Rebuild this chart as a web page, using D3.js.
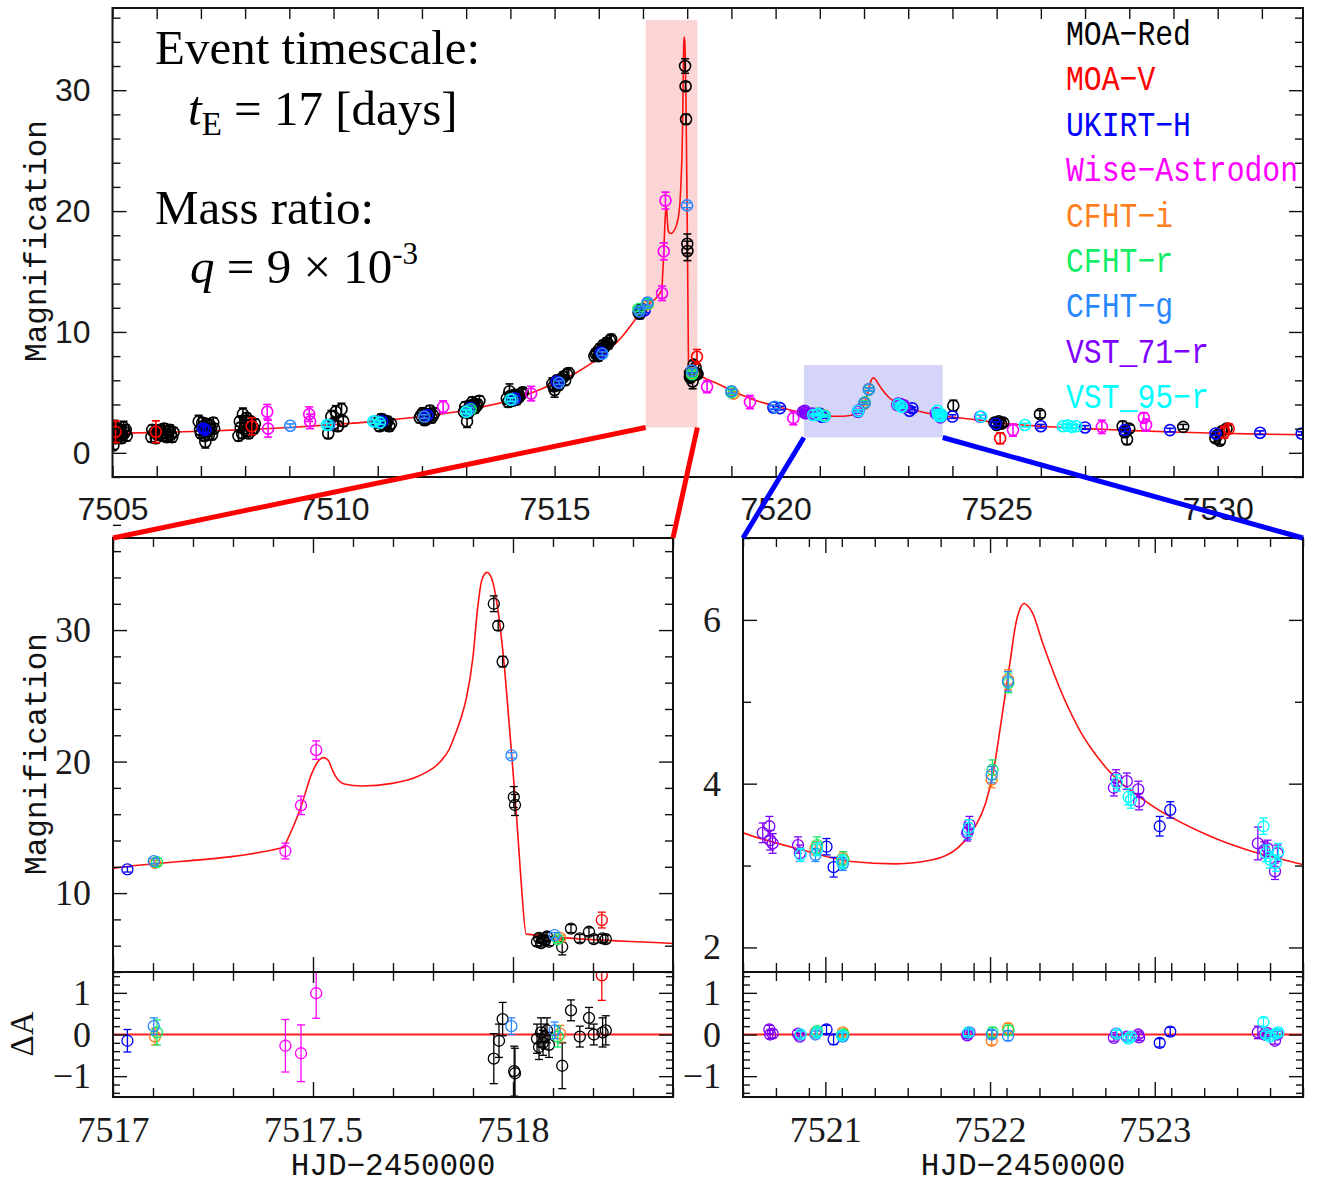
<!DOCTYPE html>
<html>
<head>
<meta charset="utf-8">
<script src="https://cdn.jsdelivr.net/npm/d3@7"></script>
<style>
  body { margin: 0; background: #fff; }
  svg { display: block; }
</style>
</head>
<body>
<script>
// ---------- data ----------
const seriesNames = ["MOA−Red", "MOA−V", "UKIRT−H", "Wise−Astrodon", "CFHT−i", "CFHT−r", "CFHT−g", "VST_71−r", "VST_95−r"];
const seriesColors = ["#000000", "#ff0000", "#0000ff", "#ff00ff", "#ff7f1e", "#11ee66", "#2a88ff", "#7f00ff", "#00ffff"];

// [HJD-2450000, magnification, error]
const moaRed = [
  [7505.02,0.6,0.3],[7505.03,1.4,0.4],[7505.04,2.2,0.5],[7505.06,1.9,0.5],[7505.08,1.2,0.4],[7505.10,1.6,0.4],[7505.12,2.0,0.4],[7505.14,1.3,0.4],
  [7505.16,1.7,0.4],[7505.18,1.8,0.5],[7505.20,1.2,0.4],[7505.22,1.5,0.4],[7505.25,2.1,0.5],[7505.28,1.7,0.4],[7505.30,1.9,0.4],[7505.32,1.4,0.4],
  [7505.88,1.3,0.4],[7505.90,1.9,0.4],[7505.95,1.7,0.4],[7505.98,1.2,0.4],[7506.02,1.5,0.4],[7506.05,1.8,0.4],[7506.08,1.9,0.4],[7506.11,1.6,0.4],
  [7506.14,1.4,0.4],[7506.17,2.0,0.4],[7506.20,1.6,0.4],[7506.23,1.3,0.4],[7506.26,1.8,0.4],[7506.30,1.9,0.4],[7506.32,1.5,0.4],[7506.35,1.3,0.4],[7506.38,1.7,0.4],
  [7506.95,2.6,0.5],[7506.98,1.9,0.4],[7507.00,1.6,0.4],[7507.03,2.5,0.4],[7507.05,2.2,0.4],[7507.08,1.4,0.4],[7507.10,0.9,0.5],[7507.13,2.4,0.4],
  [7507.15,1.8,0.4],[7507.18,1.5,0.4],[7507.20,2.3,0.4],[7507.23,2.0,0.4],[7507.25,1.5,0.4],[7507.28,2.5,0.4],[7507.30,2.0,0.4],
  [7507.85,1.4,0.4],[7507.88,2.6,0.4],[7507.90,2.1,0.4],[7507.93,1.6,0.4],[7507.95,3.2,0.5],[7507.98,2.0,0.4],[7508.00,2.6,0.5],[7508.03,2.9,0.4],
  [7508.05,1.8,0.4],[7508.08,1.6,0.4],[7508.10,2.3,0.4],[7508.12,2.6,0.4],[7508.15,1.9,0.4],[7508.20,2.0,0.4],[7508.22,2.4,0.4],
  [7509.88,1.6,0.4],[7509.95,3.0,0.5],[7510.00,2.4,0.4],[7510.05,3.4,0.5],[7510.10,2.2,0.4],[7510.18,3.6,0.5],[7510.22,2.6,0.4],
  [7511.00,2.5,0.4],[7511.04,2.2,0.4],[7511.08,2.8,0.4],[7511.12,2.7,0.4],[7511.15,2.3,0.4],[7511.18,2.5,0.4],[7511.22,2.6,0.4],[7511.26,2.2,0.4],[7511.30,2.4,0.4],
  [7511.95,2.9,0.4],[7511.98,3.1,0.4],[7512.02,3.3,0.4],[7512.06,2.7,0.4],[7512.10,2.8,0.4],[7512.14,3.2,0.4],[7512.18,3.5,0.4],[7512.22,2.9,0.4],[7512.25,3.1,0.4],[7512.28,3.3,0.4],
  [7512.95,3.4,0.4],[7512.98,3.8,0.4],[7513.02,2.6,0.5],[7513.05,3.3,0.4],[7513.08,3.9,0.4],[7513.11,3.6,0.4],[7513.14,4.2,0.4],[7513.17,4.0,0.4],
  [7513.20,3.7,0.4],[7513.23,3.9,0.4],[7513.26,4.0,0.4],[7513.30,4.3,0.4],
  [7513.92,4.5,0.5],[7513.95,4.2,0.4],[7513.98,5.1,0.6],[7514.01,4.7,0.4],[7514.04,4.3,0.4],[7514.07,4.5,0.4],[7514.10,4.8,0.4],[7514.14,4.4,0.4],
  [7514.18,4.6,0.4],[7514.21,4.7,0.4],[7514.25,4.9,0.4],[7514.28,5.0,0.4],
  [7514.95,5.7,0.5],[7514.98,5.5,0.4],[7515.00,5.2,0.6],[7515.03,5.9,0.4],[7515.06,6.0,0.4],[7515.09,5.6,0.4],[7515.12,5.8,0.4],[7515.16,6.1,0.4],
  [7515.20,6.3,0.4],[7515.24,6.0,0.4],[7515.28,6.5,0.4],[7515.32,6.6,0.4],
  [7515.90,8.0,0.4],[7515.93,8.2,0.4],[7515.96,8.3,0.4],[7515.99,8.0,0.4],[7516.02,8.6,0.4],[7516.06,8.5,0.4],[7516.10,8.9,0.4],[7516.14,8.8,0.4],
  [7516.18,9.1,0.4],[7516.21,9.0,0.4],[7516.25,9.3,0.4],[7516.28,9.4,0.4],
  [7516.90,11.6,0.4],[7516.93,11.5,0.4],[7516.96,11.9,0.4],
  [7517.952,32.0,0.6],[7517.963,30.33,0.35],[7517.974,27.6,0.4],[7518.002,17.3,0.8],[7518.005,16.7,0.8],
  [7518.060,6.3,0.3],[7518.065,6.6,0.3],[7518.070,6.2,0.3],[7518.075,6.5,0.3],[7518.080,6.4,0.3],[7518.085,6.7,0.3],[7518.090,6.3,0.3],
  [7518.123,5.9,0.6],[7518.145,7.3,0.3],[7518.167,6.55,0.3],[7518.190,7.06,0.3],[7518.202,6.5,0.3],[7518.224,6.56,0.3],[7518.232,6.5,0.3],
  [7524.02,3.9,0.45],[7524.95,2.5,0.3],[7525.00,2.3,0.3],[7525.05,2.6,0.3],[7525.10,2.4,0.3],[7525.15,2.5,0.3],[7525.98,3.2,0.3],
  [7527.85,2.2,0.4],[7527.90,1.7,0.4],[7527.95,1.1,0.4],[7528.00,2.0,0.3],[7529.22,2.15,0.2],
  [7529.95,1.2,0.3],[7530.00,1.5,0.3],[7530.05,1.0,0.3],[7530.10,1.8,0.3],[7530.20,2.0,0.3]
];
const moaV = [
  [7505.07,1.74,0.9],[7505.98,1.74,0.9],[7508.15,2.2,0.7],[7518.222,7.95,0.6],[7525.08,1.2,0.45],[7530.15,1.7,0.5],[7530.25,2.0,0.4]
];
const ukirtH = [
  [7507.05,2.0,0.3],[7507.10,1.9,0.3],[7511.10,2.6,0.2],[7512.12,3.1,0.2],[7513.10,3.7,0.2],[7514.10,4.5,0.2],[7515.05,5.9,0.2],[7516.05,8.3,0.2],
  [7517.036,11.8,0.2],[7519.95,3.75,0.15],[7520.10,3.7,0.15],[7521.007,3.23,0.1],[7521.05,2.98,0.12],[7523.03,3.48,0.12],[7523.094,3.68,0.1],
  [7524.00,3.0,0.15],[7524.98,2.4,0.15],[7526.00,2.2,0.15],[7527.00,2.1,0.15],[7527.90,1.9,0.15],[7528.92,1.88,0.15],[7529.95,1.6,0.15],
  [7530.96,1.66,0.15],[7531.90,1.6,0.15]
];
const wise = [
  [7508.50,3.4,0.6],[7508.52,2.0,0.7],[7509.45,3.2,0.6],[7509.47,2.6,0.6],[7512.48,3.8,0.5],[7514.47,4.9,0.6],
  [7517.431,13.2,0.6],[7517.47,16.67,0.7],[7517.508,20.87,0.7],[7518.45,5.47,0.5],[7519.42,4.2,0.55],[7520.40,2.87,0.55],
  [7525.37,1.88,0.5],[7527.38,2.15,0.55],[7528.33,2.9,0.4],[7528.38,2.3,0.5]
];
const cfhtI = [
  [7517.105,12.3,0.2],[7518.118,6.6,0.2],[7519.05,4.9,0.15],[7520.94,3.21,0.08],[7521.106,3.09,0.08],[7522.01,4.05,0.1],[7522.109,5.27,0.12]
];
const cfhtR = [
  [7513.10,3.6,0.15],[7516.90,11.9,0.2],[7517.11,12.35,0.3],[7518.112,6.5,0.25],[7519.00,5.0,0.15],[7520.95,3.25,0.1],[7521.11,3.07,0.1],
  [7522.015,4.17,0.12],[7522.112,5.23,0.12]
];
const cfhtG = [
  [7509.02,2.24,0.15],[7509.90,2.3,0.15],[7510.95,2.6,0.15],[7512.05,3.0,0.15],[7513.05,3.5,0.15],[7514.05,4.4,0.15],[7515.10,5.8,0.15],
  [7516.08,8.2,0.15],[7516.92,11.7,0.2],[7517.102,12.43,0.2],[7517.996,20.47,0.2],[7518.104,6.8,0.2],[7519.00,5.1,0.15],[7519.98,3.8,0.15],
  [7520.94,3.13,0.08],[7521.106,3.02,0.08],[7521.865,3.42,0.1],[7522.01,4.11,0.1],[7522.109,5.25,0.12]
];
const vst71 = [
  [7520.62,3.4,0.12],[7520.66,3.48,0.12],[7520.665,3.31,0.12],[7520.68,3.27,0.12],[7520.834,3.25,0.1],[7520.845,3.15,0.1],
  [7521.861,3.40,0.1],[7521.875,3.5,0.1],[7522.752,3.95,0.1],[7522.765,4.07,0.1],[7522.83,4.03,0.1],[7522.90,3.93,0.1],[7522.905,3.78,0.1],
  [7523.626,3.27,0.2],[7523.665,3.19,0.1],[7523.685,3.21,0.1],[7523.73,2.93,0.1],[7523.745,3.15,0.1],[7524.63,2.98,0.15]
];
const vst95 = [
  [7509.85,2.3,0.15],[7510.90,2.6,0.15],[7511.05,2.5,0.15],[7513.00,3.4,0.15],[7514.00,4.4,0.15],[7520.85,3.13,0.08],[7520.95,3.2,0.08],
  [7521.10,3.05,0.08],[7521.87,3.46,0.1],[7522.77,4.01,0.1],[7522.84,3.84,0.1],[7522.855,3.8,0.1],[7523.66,3.48,0.1],[7523.675,3.15,0.1],
  [7523.70,3.07,0.1],[7523.735,3.03,0.1],[7523.75,3.17,0.1],[7524.65,3.0,0.15],[7525.64,2.3,0.15],[7526.50,2.2,0.15],[7526.60,2.25,0.15],
  [7526.70,2.15,0.15],[7526.80,2.2,0.15]
];

// residuals [HJD-2450000, ΔA, error]
const moaRedRes = [
  [7517.952,-0.58,0.6],[7517.965,-0.15,0.4],[7517.974,0.37,0.4],[7518.003,-0.88,0.6],[7518.005,-0.93,0.6],
  [7518.060,-0.1,0.35],[7518.065,-0.3,0.3],[7518.070,0.05,0.35],[7518.075,-0.2,0.3],[7518.080,-0.05,0.3],[7518.085,0.1,0.3],[7518.090,-0.25,0.3],
  [7518.123,-0.75,0.55],[7518.145,0.58,0.25],[7518.167,-0.05,0.25],[7518.190,0.4,0.25],[7518.202,0.0,0.25],[7518.224,0.05,0.35],[7518.232,0.1,0.35]
];
const moaVRes = [[7518.222,1.42,0.6]];
const ukirtHRes = [[7517.036,-0.15,0.27],[7521.007,0.12,0.1],[7521.05,-0.12,0.12],[7523.03,-0.2,0.1],[7523.094,0.07,0.1]];
const wiseRes = [[7517.431,-0.27,0.63],[7517.47,-0.45,0.68],[7517.508,0.99,0.6]];
const cfhtIRes = [[7517.105,-0.05,0.2],[7518.118,0.02,0.2],[7520.94,0.05,0.08],[7521.106,0.05,0.08],[7522.01,-0.15,0.1],[7522.109,0.15,0.12]];
const cfhtRRes = [[7517.11,0.05,0.3],[7518.112,-0.05,0.25],[7520.95,0.08,0.1],[7521.11,0.0,0.1],[7522.015,0.05,0.12],[7522.112,0.1,0.12]];
const cfhtGRes = [[7517.102,0.2,0.2],[7517.996,0.2,0.2],[7518.104,0.1,0.2],[7520.94,0.0,0.08],[7521.106,-0.05,0.08],[7521.865,0.02,0.1],[7522.01,0.0,0.1],[7522.109,-0.03,0.12]];
const vst71Res = [
  [7520.66,0.12,0.1],[7520.665,0.0,0.1],[7520.68,0.02,0.1],[7520.834,0.02,0.08],[7520.845,-0.05,0.08],[7521.861,-0.02,0.08],[7521.875,0.05,0.08],
  [7522.752,-0.08,0.08],[7522.765,0.02,0.08],[7522.83,-0.05,0.08],[7522.90,0.0,0.08],[7522.905,-0.07,0.08],
  [7523.626,0.05,0.15],[7523.665,0.0,0.08],[7523.685,0.03,0.08],[7523.73,-0.15,0.08],[7523.745,0.0,0.08]
];
const vst95Res = [
  [7520.85,0.0,0.08],[7520.95,0.05,0.08],[7521.10,-0.02,0.08],[7521.87,0.05,0.08],[7522.77,0.02,0.08],[7522.84,-0.1,0.08],[7522.855,-0.05,0.08],
  [7523.66,0.3,0.1],[7523.675,0.0,0.08],[7523.70,-0.05,0.08],[7523.735,0.02,0.08],[7523.75,0.05,0.08]
];

// best-fit model curve [HJD-2450000, magnification]
const model = [
  [7505.0,1.62],[7506,1.68],[7507,1.78],[7508,1.92],[7509,2.1],[7510,2.33],[7511,2.62],[7512,3.0],[7513,3.55],[7514,4.35],
  [7515,5.75],[7515.5,6.65],[7516,7.85],[7516.5,9.5],[7516.8,10.9],[7517.0,11.88],[7517.426,13.47],[7517.435,14.0],[7517.47,16.56],
  [7517.497,19.1],[7517.515,20.1],[7517.526,20.3],[7517.538,20.1],[7517.548,19.4],[7517.557,18.85],[7517.578,18.3],[7517.622,18.14],
  [7517.698,18.34],[7517.764,18.9],[7517.818,19.98],[7517.84,20.9],[7517.856,22.1],[7517.872,23.5],[7517.884,24.9],[7517.90,27.97],
  [7517.911,31.5],[7517.922,33.8],[7517.935,34.39],[7517.947,33.9],[7517.96,32.0],[7517.976,28.0],[7517.993,21.9],[7518.009,15.8],
  [7518.02,11.0],[7518.033,6.88],[7518.4,6.17],[7518.7,5.7],[7519.0,5.15],[7519.5,4.4],[7520.0,3.85],[7520.5,3.40],[7520.859,3.19],
  [7521.156,3.05],[7521.428,3.02],[7521.651,3.07],[7521.80,3.21],[7521.899,3.44],[7521.973,3.76],[7522.022,4.17],[7522.072,4.82],
  [7522.121,5.48],[7522.158,5.97],[7522.185,6.15],[7522.208,6.20],[7522.23,6.17],[7522.257,6.09],[7522.319,5.72],[7522.418,5.19],
  [7522.542,4.66],[7522.715,4.17],[7522.963,3.76],[7523.334,3.36],[7523.9,3.01],[7524.5,2.75],[7525,2.5],[7526,2.2],[7527,2.0],
  [7528,1.85],[7529,1.72],[7530,1.62],[7531,1.55],[7531.93,1.5]
];

// tick labels
const topXLabels = [7505, 7510, 7515, 7520, 7525, 7530];
const topYLabels = [0, 10, 20, 30];
const leftXLabels = [7517, 7517.5, 7518];
const leftYLabels = [10, 20, 30];
const rightXLabels = [7521, 7522, 7523];
const rightYLabels = [2, 4, 6];
const resYLabels = [-1, 0, 1];

// zoom windows marked in the top panel [t0, t1, A0, A1]
const zoomCaustic = [7517.06, 7518.23, 2.1, 35.8];
const zoomBump = [7520.64, 7523.78, 1.27, 7.26];

const mainData = [moaRed, moaV, ukirtH, wise, cfhtI, cfhtR, cfhtG, vst71, vst95];
const resData = [moaRedRes, moaVRes, ukirtHRes, wiseRes, cfhtIRes, cfhtRRes, cfhtGRes, vst71Res, vst95Res];

// ---------- drawing ----------
const W = 1319, H = 1183;
const svg = d3.select("body").append("svg").attr("width", W).attr("height", H);
const defs = svg.append("defs");
let clipCount = 0;

function clipGroup(x0, y0, x1, y1) {
  const id = "clip" + (clipCount++);
  defs.append("clipPath").attr("id", id).append("rect")
    .attr("x", x0).attr("y", y0).attr("width", x1 - x0).attr("height", y1 - y0);
  return svg.append("g").attr("clip-path", `url(#${id})`);
}

function addAxis(orient, scale, pos, values, size, opt = {}) {
  const make = { bottom: d3.axisBottom, top: d3.axisTop, left: d3.axisLeft, right: d3.axisRight }[orient];
  const ax = make(scale).tickValues(values).tickSize(-size).tickSizeOuter(0)
    .tickPadding(opt.pad || 0)
    .tickFormat(opt.fmt || (() => ""));
  const horiz = orient === "bottom" || orient === "top";
  const g = svg.append("g")
    .attr("transform", horiz ? `translate(0,${pos})` : `translate(${pos},0)`)
    .call(ax);
  g.select(".domain").remove();
  g.selectAll("line").attr("stroke", "#111").attr("stroke-width", 1.4);
  g.selectAll("text")
    .attr("font-family", opt.font || "Liberation Sans")
    .attr("font-size", opt.size || 32)
    .attr("fill", "#1a1a1a");
  return g;
}

function drawModel(g, x, y) {
  g.append("path")
    .datum(model)
    .attr("fill", "none")
    .attr("stroke", "#ff1010")
    .attr("stroke-width", 1.6)
    .attr("d", d3.line().x(d => x(d[0])).y(d => y(d[1])).curve(d3.curveMonotoneX));
}

function drawPoints(g, x, y, sets, r, sw) {
  sets.forEach((pts, i) => {
    const s = g.append("g")
      .attr("stroke", seriesColors[i])
      .attr("fill", "none")
      .attr("stroke-width", sw);
    const pt = s.selectAll("g").data(pts).join("g");
    pt.append("line")
      .attr("x1", d => x(d[0])).attr("x2", d => x(d[0]))
      .attr("y1", d => y(d[1] - d[2])).attr("y2", d => y(d[1] + d[2]));
    pt.append("line")
      .attr("x1", d => x(d[0]) - 4).attr("x2", d => x(d[0]) + 4)
      .attr("y1", d => y(d[1] - d[2])).attr("y2", d => y(d[1] - d[2]));
    pt.append("line")
      .attr("x1", d => x(d[0]) - 4).attr("x2", d => x(d[0]) + 4)
      .attr("y1", d => y(d[1] + d[2])).attr("y2", d => y(d[1] + d[2]));
    pt.append("circle")
      .attr("cx", d => x(d[0])).attr("cy", d => y(d[1]))
      .attr("r", r);
  });
}

function frame(x0, y0, x1, y1) {
  svg.append("rect")
    .attr("x", x0).attr("y", y0).attr("width", x1 - x0).attr("height", y1 - y0)
    .attr("fill", "none").attr("stroke", "#111").attr("stroke-width", 2);
}

const stepRange = (a, b, s) => d3.range(0, Math.round((b - a) / s) + 1).map(i => +(a + i * s).toFixed(4));
const notIn = (vals, majors) => vals.filter(v => !majors.some(m => Math.abs(m - v) < 1e-6));

// ===== TOP PANEL =====
const T = { x0: 112.5, x1: 1303, y0: 8, y1: 477 };
const xTop = d3.scaleLinear().domain([7505, 7531.93]).range([T.x0, T.x1]);
const yTop = d3.scaleLinear().domain([-2, 36.8]).range([T.y1, T.y0]);

const gTop = clipGroup(T.x0, T.y0, T.x1, T.y1);
gTop.append("rect")
  .attr("x", xTop(zoomCaustic[0])).attr("width", xTop(zoomCaustic[1]) - xTop(zoomCaustic[0]))
  .attr("y", yTop(zoomCaustic[3])).attr("height", yTop(zoomCaustic[2]) - yTop(zoomCaustic[3]))
  .attr("fill", "#fdd5d5");
gTop.append("rect")
  .attr("x", xTop(zoomBump[0])).attr("width", xTop(zoomBump[1]) - xTop(zoomBump[0]))
  .attr("y", yTop(zoomBump[3])).attr("height", yTop(zoomBump[2]) - yTop(zoomBump[3]))
  .attr("fill", "#d5d5f9");
drawModel(gTop, xTop, yTop);
drawPoints(gTop, xTop, yTop, mainData, 5.5, 1.6);

const topDays = d3.range(7505, 7532);
addAxis("bottom", xTop, T.y1, topDays, 11, { pad: 20, fmt: d => topXLabels.includes(d) ? d : "" });
addAxis("top", xTop, T.y0, topDays, 11);
const topMinor = notIn(stepRange(-2, 36, 2), topYLabels);
addAxis("left", yTop, T.x0, topYLabels, 14, { pad: 22, fmt: d3.format("d") });
addAxis("left", yTop, T.x0, topMinor, 8);
addAxis("right", yTop, T.x1, topYLabels, 14);
addAxis("right", yTop, T.x1, topMinor, 8);
frame(T.x0, T.y0, T.x1, T.y1);

// annotations
const ann = svg.append("g").attr("font-family", "Liberation Serif").attr("font-size", 49).attr("fill", "#000");
ann.append("text").attr("x", 155).attr("y", 64).text("Event timescale:");
const l2 = ann.append("text").attr("x", 188).attr("y", 125);
l2.append("tspan").attr("font-style", "italic").text("t");
l2.append("tspan").attr("font-size", 33).attr("dy", 10).text("E");
l2.append("tspan").attr("dy", -10).text(" = 17 [days]");
ann.append("text").attr("x", 155).attr("y", 224).text("Mass ratio:");
const l4 = ann.append("text").attr("x", 190).attr("y", 283);
l4.append("tspan").attr("font-style", "italic").text("q");
l4.append("tspan").text(" = 9 × 10");
l4.append("tspan").attr("font-size", 31).attr("dy", -19).text("-3");

// legend
seriesNames.forEach((name, i) => {
  svg.append("text")
    .attr("transform", `translate(1066,${45 + i * 45.4}) scale(0.93,1.1)`)
    .attr("font-family", "Liberation Mono")
    .attr("font-size", 32)
    .attr("fill", seriesColors[i])
    .text(name);
});

svg.append("text")
  .attr("transform", "translate(46,241) rotate(-90)")
  .attr("text-anchor", "middle")
  .attr("font-family", "Liberation Mono").attr("font-size", 31).attr("fill", "#111")
  .text("Magnification");

// ===== BOTTOM PANELS =====
function zoomPanel(p) {
  const x = d3.scaleLinear().domain(p.xDom).range([p.x0, p.x1]);
  const y = d3.scaleLinear().domain(p.yDom).range([p.ym, p.y0]);
  const yr = d3.scaleLinear().domain([-1.5, 1.5]).range([p.y1, p.ym]);

  const gm = clipGroup(p.x0, p.y0, p.x1, p.ym);
  drawModel(gm, x, y);
  drawPoints(gm, x, y, mainData, 5.5, 1.3);

  const gr = clipGroup(p.x0, p.ym, p.x1, p.y1);
  gr.append("line")
    .attr("x1", x(p.xDom[0])).attr("x2", x(p.xDom[1]))
    .attr("y1", yr(0)).attr("y2", yr(0))
    .attr("stroke", "#ff2020").attr("stroke-width", 2);
  drawPoints(gr, x, yr, resData, 5.5, 1.3);

  const xMinor = notIn(stepRange(p.xDom[0], p.xDom[1], p.xStep), p.xMajor);
  const serif = { font: "Liberation Serif", size: 36 };
  addAxis("bottom", x, p.y1, p.xMajor, 15, { ...serif, pad: 19, fmt: p.xFmt });
  addAxis("bottom", x, p.y1, xMinor, 9);
  addAxis("bottom", x, p.ym, p.xMajor, 15);
  addAxis("bottom", x, p.ym, xMinor, 9);
  addAxis("top", x, p.ym, p.xMajor, 11);
  addAxis("top", x, p.ym, xMinor, 9);
  addAxis("top", x, p.y0, p.xMajor, 15);
  addAxis("top", x, p.y0, xMinor, 9);

  const yMinor = notIn(stepRange(p.yMinorFrom, p.yDom[1], p.yStep), p.yMajor);
  addAxis("left", y, p.x0, p.yMajor, 14, { ...serif, pad: 22, fmt: d3.format("d") });
  addAxis("left", y, p.x0, yMinor, 8);
  addAxis("right", y, p.x1, p.yMajor, 14);
  addAxis("right", y, p.x1, yMinor, 8);

  const rMinor = notIn(stepRange(-1.4, 1.4, 0.2), resYLabels);
  addAxis("left", yr, p.x0, resYLabels, 14, { ...serif, pad: 22, fmt: d3.format("d") });
  addAxis("left", yr, p.x0, rMinor, 7);
  addAxis("right", yr, p.x1, resYLabels, 14);
  addAxis("right", yr, p.x1, rMinor, 7);

  frame(p.x0, p.y0, p.x1, p.ym);
  frame(p.x0, p.ym, p.x1, p.y1);

  svg.append("text")
    .attr("x", (p.x0 + p.x1) / 2).attr("y", 1175)
    .attr("text-anchor", "middle")
    .attr("font-family", "Liberation Mono").attr("font-size", 31).attr("fill", "#111")
    .text("HJD−2450000");
  return { x, y };
}

const left = zoomPanel({
  x0: 113, x1: 673, y0: 538, ym: 972, y1: 1097,
  xDom: [7517, 7518.4], xMajor: leftXLabels, xStep: 0.1, xFmt: d => d,
  yDom: [4, 37], yMajor: leftYLabels, yMinorFrom: 4, yStep: 2
});
const right = zoomPanel({
  x0: 743, x1: 1303, y0: 538, ym: 972, y1: 1097,
  xDom: [7520.5, 7523.9], xMajor: rightXLabels, xStep: 0.2, xFmt: d => d,
  yDom: [1.7, 7], yMajor: rightYLabels, yMinorFrom: 2, yStep: 1
});

svg.append("text")
  .attr("transform", "translate(46,754) rotate(-90)")
  .attr("text-anchor", "middle")
  .attr("font-family", "Liberation Mono").attr("font-size", 31).attr("fill", "#111")
  .text("Magnification");
svg.append("text")
  .attr("transform", "translate(33,1034) rotate(-90)")
  .attr("text-anchor", "middle")
  .attr("font-family", "Liberation Serif").attr("font-size", 33).attr("fill", "#111")
  .text("ΔA");

// connectors from zoom windows to the lower panels
const conn = [
  { c: "#ff0000", a: [xTop(zoomCaustic[0]), yTop(zoomCaustic[2])], b: [113, 538] },
  { c: "#ff0000", a: [xTop(zoomCaustic[1]), yTop(zoomCaustic[2])], b: [673, 538] },
  { c: "#0000ff", a: [xTop(zoomBump[0]), yTop(zoomBump[2])], b: [743, 538] },
  { c: "#0000ff", a: [xTop(zoomBump[1]), yTop(zoomBump[2])], b: [1303, 538] }
];
svg.selectAll("line.conn").data(conn).join("line")
  .attr("class", "conn")
  .attr("x1", d => d.a[0]).attr("y1", d => d.a[1])
  .attr("x2", d => d.b[0]).attr("y2", d => d.b[1])
  .attr("stroke", d => d.c).attr("stroke-width", 5);
</script>
</body>
</html>
